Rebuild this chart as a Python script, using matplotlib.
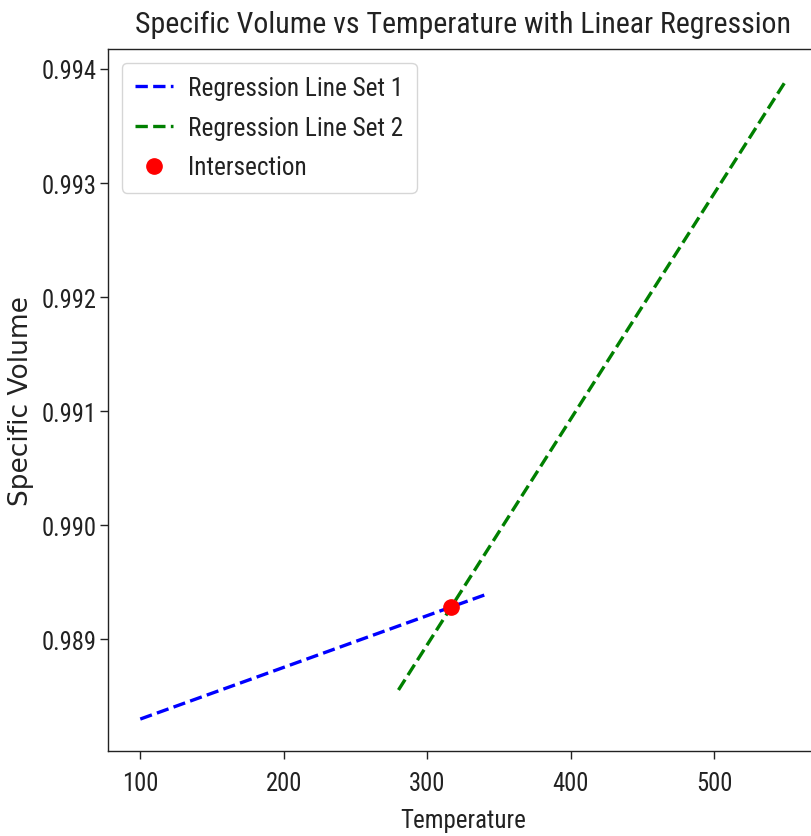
import matplotlib
matplotlib.use("Agg")
import matplotlib.pyplot as plt

# Data
temp_set1 = [100, 340]
vol_set1 = [0.98830, 0.989388]
temp_set2 = [280, 550]
vol_set2 = [0.988555, 0.993895]
intersection_temp = [316.8]
intersection_vol = [0.989280]

xticks = [100, 200, 300, 400, 500]
yticks = [0.989, 0.990, 0.991, 0.992, 0.993, 0.994]

plt.rcParams["font.family"] = ["Roboto Condensed", "DejaVu Sans"]
plt.rcParams["font.stretch"] = "condensed"

fig = plt.figure(figsize=(8.11, 8.37), dpi=100)
ax = fig.add_axes([108/811, (837-752)/837, 710/811, 702/837])

ax.plot(temp_set1, vol_set1, linestyle="--", color="blue", linewidth=2.4, label="Regression Line Set 1")
ax.plot(temp_set2, vol_set2, linestyle="--", color="green", linewidth=2.4, label="Regression Line Set 2")
ax.plot(intersection_temp, intersection_vol, "o", color="red", markersize=11, label="Intersection", linestyle="none")

ax.set_xlim(77.5, 572.5)
ax.set_ylim(0.988020, 0.994175)
ax.set_xticks(xticks)
ax.set_yticks(yticks)
ax.set_yticklabels([f"{v:.3f}" for v in yticks])
for s in ax.spines.values():
    s.set_linewidth(1.0)
    s.set_color("#222222")
ax.tick_params(labelsize=17.7, length=5.5, width=1.0, color="#222222", labelcolor="#222222")
ax.tick_params(axis="x", pad=9)
ax.tick_params(axis="y", pad=3)

ax.set_title("Specific Volume vs Temperature with Linear Regression", fontsize=21.5, pad=12, color="#222222")
ax.set_xlabel("Temperature", fontsize=17.9, labelpad=9.5, color="#222222")
ax.set_ylabel("Specific Volume", fontsize=19, family="DejaVu Sans", fontstretch="normal", labelpad=5, color="#222222")

leg = ax.legend(loc="upper left", fontsize=18.2, borderpad=0.52, borderaxespad=0.55,
                labelspacing=0.62, handlelength=1.5, handletextpad=0.6)
for t in leg.get_texts():
    t.set_color("#222222")

fig.savefig("out.png", dpi=100)
